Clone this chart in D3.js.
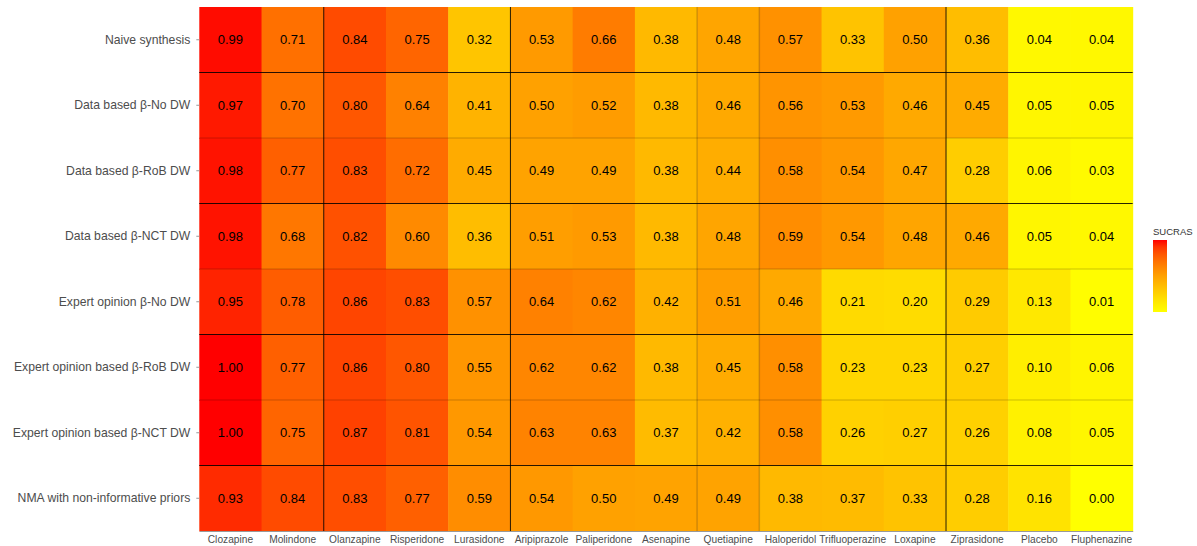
<!DOCTYPE html>
<html><head><meta charset="utf-8">
<script src="https://cdn.jsdelivr.net/npm/d3@7"></script>
<style>body{margin:0;background:#fff;font-family:"Liberation Sans",Arial,sans-serif;}</style>
</head><body><svg id="c" width="1197" height="546"></svg>
<script>
const drugs = ["Clozapine","Molindone","Olanzapine","Risperidone","Lurasidone","Aripiprazole","Paliperidone","Asenapine","Quetiapine","Haloperidol","Trifluoperazine","Loxapine","Ziprasidone","Placebo","Fluphenazine"];
const methods = ["Naive synthesis","Data based β-No DW","Data based β-RoB DW","Data based β-NCT DW","Expert opinion β-No DW","Expert opinion based β-RoB DW","Expert opinion based β-NCT DW","NMA with non-informative priors"];
const naive      = [0.99,0.71,0.84,0.75,0.32,0.53,0.66,0.38,0.48,0.57,0.33,0.50,0.36,0.04,0.04];
const dataNo     = [0.97,0.70,0.80,0.64,0.41,0.50,0.52,0.38,0.46,0.56,0.53,0.46,0.45,0.05,0.05];
const dataRoB    = [0.98,0.77,0.83,0.72,0.45,0.49,0.49,0.38,0.44,0.58,0.54,0.47,0.28,0.06,0.03];
const dataNCT    = [0.98,0.68,0.82,0.60,0.36,0.51,0.53,0.38,0.48,0.59,0.54,0.48,0.46,0.05,0.04];
const expertNo   = [0.95,0.78,0.86,0.83,0.57,0.64,0.62,0.42,0.51,0.46,0.21,0.20,0.29,0.13,0.01];
const expertRoB  = [1.00,0.77,0.86,0.80,0.55,0.62,0.62,0.38,0.45,0.58,0.23,0.23,0.27,0.10,0.06];
const expertNCT  = [1.00,0.75,0.87,0.81,0.54,0.63,0.63,0.37,0.42,0.58,0.26,0.27,0.26,0.08,0.05];
const nma        = [0.93,0.84,0.83,0.77,0.59,0.54,0.50,0.49,0.49,0.38,0.37,0.33,0.28,0.16,0.00];
const seriesList = [naive,dataNo,dataRoB,dataNCT,expertNo,expertRoB,expertNCT,nma];
// separator lines (boundary indices)
const darkV = [2,5,12], faintV = [8,9];
const darkH = [1,3,5,7], faintH = [2,4,6];

const svg = d3.select("#c");
const L=199.3, R=1132.7, T=7, B=531;
const x = d3.scaleBand().domain(drugs).range([L,R]).padding(0);
const y = d3.scaleBand().domain(methods).range([T,B]).padding(0);
const color = d3.scaleLinear().domain([0,1]).range(["#FFFF00","#FF0000"]).interpolate(d3.interpolateRgb.gamma(1.5));

const cells=[];
methods.forEach((m,i)=>drugs.forEach((d,j)=>cells.push({m,d,v:seriesList[i][j]})));

svg.append("g").selectAll("rect").data(cells).join("rect")
  .attr("x",c=>x(c.d)).attr("y",c=>y(c.m))
  .attr("width",x.bandwidth()+0.5).attr("height",y.bandwidth()+0.5)
  .attr("fill",c=>color(c.v));

const bw=x.bandwidth(), bh=y.bandwidth();
const g=svg.append("g");
faintH.forEach(k=>g.append("line").attr("x1",L).attr("x2",R).attr("y1",T+k*bh).attr("y2",T+k*bh).attr("stroke","#000").attr("stroke-opacity",0.1).attr("stroke-width",2));
faintV.forEach(k=>g.append("line").attr("y1",T).attr("y2",B).attr("x1",L+k*bw).attr("x2",L+k*bw).attr("stroke","#000").attr("stroke-opacity",0.18).attr("stroke-width",1.5));
darkH.forEach(k=>g.append("line").attr("x1",L).attr("x2",R).attr("y1",T+k*bh).attr("y2",T+k*bh).attr("stroke","#000").attr("stroke-opacity",0.85).attr("stroke-width",1));
darkV.forEach(k=>g.append("line").attr("y1",T).attr("y2",B).attr("x1",L+k*bw).attr("x2",L+k*bw).attr("stroke","#000").attr("stroke-opacity",0.85).attr("stroke-width",1));

svg.append("g").selectAll("text").data(cells).join("text")
  .attr("x",c=>x(c.d)+bw/2).attr("y",c=>y(c.m)+bh/2)
  .attr("text-anchor","middle").attr("dominant-baseline","central")
  .attr("font-size",13).attr("fill","#000")
  .text(c=>c.v.toFixed(2));

// axes
const ya=svg.append("g").attr("transform",`translate(${L},0)`).call(d3.axisLeft(y).tickSize(3).tickPadding(6));
ya.select(".domain").remove();
ya.selectAll("line").attr("stroke","#999");
ya.selectAll("text").attr("font-size",12.2).attr("fill","#4d4d4d").attr("font-family","Liberation Sans, Arial, sans-serif");
const xa=svg.append("g").attr("transform",`translate(0,${B})`).call(d3.axisBottom(x).tickSize(0).tickPadding(5));
xa.select(".domain").attr("stroke","#999").attr("stroke-width",1);
xa.selectAll("text").attr("font-size",10.2).attr("fill","#4d4d4d").attr("font-family","Liberation Sans, Arial, sans-serif");

// legend
const defs=svg.append("defs");
const grad=defs.append("linearGradient").attr("id","lg").attr("x1",0).attr("y1",1).attr("x2",0).attr("y2",0);
d3.range(0,1.01,0.1).forEach(t=>grad.append("stop").attr("offset",t).attr("stop-color",color(t)));
svg.append("rect").attr("x",1153).attr("y",240).attr("width",14).attr("height",72).attr("fill","url(#lg)");
svg.append("text").attr("x",1153).attr("y",235).attr("font-size",9.5).attr("fill","#333").text("SUCRAS");
</script></body></html>
